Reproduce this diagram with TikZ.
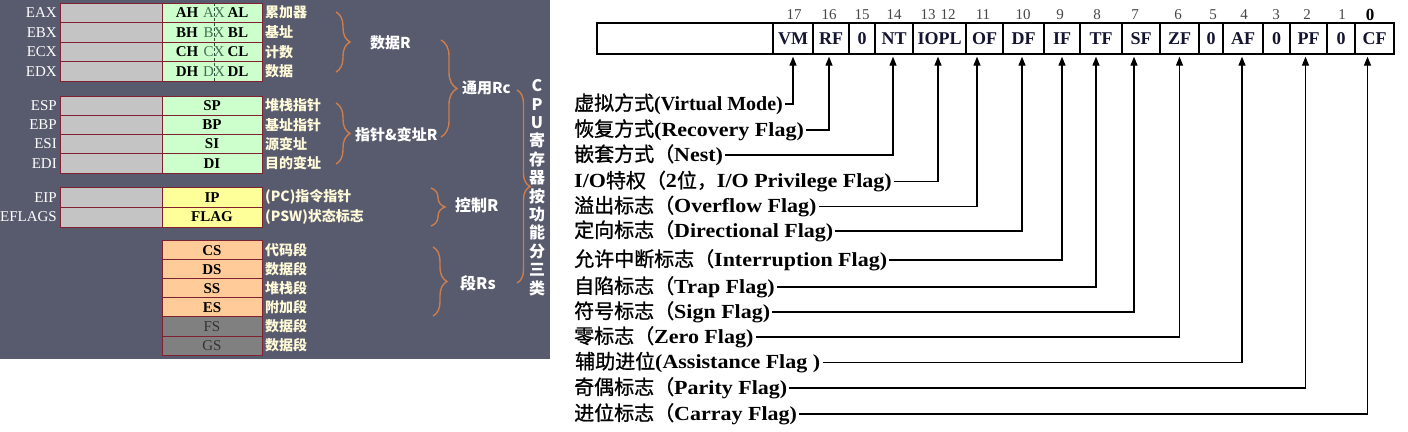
\documentclass[tikz,border=0pt]{standalone}
\usepackage{fontspec}
\setmainfont{Liberation Serif}
\newfontfamily\cjk{Noto Sans CJK SC}
\newfontfamily\cjkr[FakeBold=1]{Noto Sans CJK SC}
\newfontfamily\latw[FakeStretch=1.1]{Liberation Serif}
\usetikzlibrary{arrows.meta,decorations.pathreplacing}
\definecolor{panelbg}{RGB}{88,90,110}
\definecolor{reggrey}{RGB}{196,196,196}
\definecolor{reggreen}{RGB}{204,255,204}
\definecolor{regyellow}{RGB}{255,255,153}
\definecolor{regorange}{RGB}{255,204,153}
\definecolor{regdark}{RGB}{128,128,128}
\definecolor{regborder}{RGB}{128,32,48}
\definecolor{cream}{RGB}{255,250,215}
\definecolor{bracecol}{RGB}{205,125,75}
\definecolor{axcol}{RGB}{70,110,85}
\definecolor{bitcol}{RGB}{70,70,70}
\definecolor{celltext}{RGB}{20,20,50}
\newcommand{\zh}[1]{{\cjkr\mdseries #1}}
\begin{document}
\begin{tikzpicture}[x=1pt,y=-1pt,
  regname/.style={anchor=east,text=white,font=\fontsize{15}{17}\selectfont,inner sep=0},
  greyreg/.style={draw=regborder,fill=reggrey,minimum width=102,minimum height=#1,inner sep=0,line width=0.8},
  lowreg/.style={draw=regborder,minimum width=100,minimum height=#1,inner sep=0,line width=0.8,font=\fontsize{15}{17}\selectfont\bfseries},
  half/.style={inner sep=0,font=\fontsize{15}{17}\selectfont\bfseries},
  midreg/.style={inner sep=0,text=axcol,font=\fontsize{15}{17}\selectfont},
  note/.style={anchor=west,text=cream,font=\fontsize{14}{16}\selectfont\cjk\bfseries,inner sep=0},
  grp/.style={anchor=west,text=white,font=\fontsize{15}{17}\selectfont\cjk\bfseries,inner sep=0},
  brc/.style={draw=bracecol,line width=1.4,decorate,decoration={brace,amplitude=#1}},
  cell/.style={draw,line width=1.3,minimum height=31,inner sep=0,text=celltext,font=\fontsize{18}{20}\selectfont\bfseries},
  bitno/.style={inner sep=0,text=bitcol,font=\fontsize{15}{17}\selectfont},
  lbl/.style={anchor=west,inner xsep=2,inner ysep=0,font=\fontsize{20}{22}\selectfont\latw\bfseries},
  arr/.style={draw,line width=1.2,-{Triangle[length=9pt,width=7pt]}}]
\useasboundingbox (0,0) rectangle (1408,431);
\fill[white] (0,0) rectangle (1408,431);
% ---------- left panel ----------
\fill[panelbg] (0,0) rectangle (550,359);
% data registers
\foreach \nm/\y/\hi/\md/\lo/\txt in {EAX/12.75/AH/AX/AL/累加器,EBX/32.25/BH/BX/BL/基址,ECX/51.75/CH/CX/CL/计数,EDX/71.25/DH/DX/DL/数据}{
  \node[greyreg=19.5] (\nm-g) at (111,\y) {};
  \node[regname] (\nm) at (57,\y) {\nm};
  \node[lowreg=19.5,fill=reggreen] (\md-b) at (212,\y) {};
  \node[half] (\hi) at (187,\y) {\hi};
  \node[half] (\lo) at (238,\y) {\lo};
  \node[midreg] (\md) at (214,\y) {\md};
  \node[note] (\nm-n) at (265,\y) {\txt};
}
\draw[axcol!70!black,line width=0.7,dash pattern=on 3pt off 2pt] (214,3) -- (214,81);
% pointer & index registers
\foreach \nm/\y/\sh/\txt in {ESP/105.6/SP/堆栈指针,EBP/124.9/BP/基址指针,ESI/144.1/SI/源变址,EDI/163.4/DI/目的变址}{
  \node[greyreg=19.25] (\nm-g) at (111,\y) {};
  \node[regname] (\nm) at (57,\y) {\nm};
  \node[lowreg=19.25,fill=reggreen] (\sh) at (212,\y) {\sh};
  \node[note] (\nm-n) at (265,\y) {\txt};
}
% control registers
\foreach \nm/\y/\sh/\txt in {EIP/197.2/IP/(PC)指令指针,EFLAGS/217/FLAG/(PSW)状态标志}{
  \node[greyreg=19.8] (\nm-g) at (111,\y) {};
  \node[regname] (\nm) at (57,\y) {\nm};
  \node[lowreg=19.8,fill=regyellow] (\sh) at (212,\y) {\sh};
  \node[note] (\nm-n) at (265,\y) {\txt};
}
% segment registers
\foreach \sh/\y/\txt in {CS/250.2/代码段,DS/269.3/数据段,SS/288.3/堆栈段,ES/307.4/附加段}{
  \node[lowreg=19.05,fill=regorange] (\sh) at (212,\y) {\sh};
  \node[note] (\sh-n) at (265,\y) {\txt};
}
\foreach \sh/\y/\txt in {FS/326.4/数据段,GS/345.5/数据段}{
  \node[lowreg=19.05,fill=regdark,text=black!80,font=\fontsize{15}{17}\selectfont] (\sh) at (212,\y) {\sh};
  \node[note] (\sh-n) at (265,\y) {\txt};
}
% braces and group labels
\draw[brc=14] (336,12) -- (336,72);
\node[grp] (gdata) at (370,43) {数据R};
\draw[brc=14] (336,103) -- (336,164);
\node[grp] (gptr) at (355,135) {指针\&变址R};
\draw[brc=16] (441,40) -- (441,137);
\node[grp] (ggen) at (462,88) {通用Rc};
\draw[brc=14] (431,188) -- (431,226);
\node[grp,font=\fontsize{16}{18}\selectfont\cjk\bfseries] (gctl) at (455,205) {控制R};
\draw[brc=14] (433,247) -- (433,316);
\node[grp,font=\fontsize{16}{18}\selectfont\cjk\bfseries] (gseg) at (460,283) {段Rs};
\draw[brc=13] (517,90) -- (517,283);
\node[inner sep=0,align=center,text=white,font=\fontsize{16}{18.4}\selectfont\cjk\bfseries] (cpu) at (537,187.5) {C\\P\\U\\寄\\存\\器\\按\\功\\能\\分\\三\\类};
% ---------- right panel ----------
\node[cell,minimum width=176] (blank) at (685,38.5) {};
\node[cell,minimum width=40] (vm) at (793,38.5) {VM};
\node[cell,minimum width=36] (rf) at (831,38.5) {RF};
\node[cell,minimum width=26] (z15) at (862,38.5) {0};
\node[cell,minimum width=38] (nt) at (894,38.5) {NT};
\node[cell,minimum width=53] (iopl) at (939.5,38.5) {IOPL};
\node[cell,minimum width=37] (of) at (984.5,38.5) {OF};
\node[cell,minimum width=41] (df) at (1023.5,38.5) {DF};
\node[cell,minimum width=36] (if) at (1062,38.5) {IF};
\node[cell,minimum width=42] (tf) at (1101,38.5) {TF};
\node[cell,minimum width=38] (sf) at (1141,38.5) {SF};
\node[cell,minimum width=39] (zf) at (1179.5,38.5) {ZF};
\node[cell,minimum width=24] (z5) at (1211,38.5) {0};
\node[cell,minimum width=40] (af) at (1243,38.5) {AF};
\node[cell,minimum width=27] (z3) at (1276.5,38.5) {0};
\node[cell,minimum width=37] (pf) at (1308.5,38.5) {PF};
\node[cell,minimum width=28] (z1) at (1341,38.5) {0};
\node[cell,minimum width=39] (cf) at (1374.5,38.5) {CF};
% bit numbers
\foreach \b/\x in {17/794,16/829,15/862,14/894,13/928,12/948,11/983,10/1023,9/1060,8/1097,7/1135,6/1178,5/1213,4/1244,3/1276,2/1307,1/1342}{
  \node[bitno] (bit\b) at (\x,15) {\b};
}
\node[bitno,text=black,font=\fontsize{17}{19}\selectfont\bfseries] (bit0) at (1370,15) {0};
% flag labels
\node[lbl,font=\fontsize{20}{22}\selectfont\bfseries] (lvm) at (572,104) {\zh{虚拟方式}(Virtual Mode)};
\node[lbl] (lrf) at (572,130) {\zh{恢复方式}(Recovery Flag)};
\node[lbl] (lnt) at (572,155) {\zh{嵌套方式（}Nest)};
\node[lbl] (liopl) at (572,181.5) {I/O\zh{特权（}2\zh{位，}I/O Privilege Flag)};
\node[lbl] (lof) at (572,206.5) {\zh{溢出标志（}Overflow Flag)};
\node[lbl] (ldf) at (572,231) {\zh{定向标志（}Directional Flag)};
\node[lbl] (lif) at (572,260) {\zh{允许中断标志（}Interruption Flag)};
\node[lbl] (ltf) at (572,287) {\zh{自陷标志（}Trap Flag)};
\node[lbl] (lsf) at (572,312) {\zh{符号标志（}Sign Flag)};
\node[lbl] (lzf) at (572,337) {\zh{零标志（}Zero Flag)};
\node[lbl,inner xsep=3] (laf) at (572,362.5) {\zh{辅助进位}(Assistance Flag )};
\node[lbl] (lpf) at (572,388) {\zh{奇偶标志（}Parity Flag)};
\node[lbl] (lcf) at (572,414) {\zh{进位标志（}Carray Flag)};
% connectors
\draw[arr] (lvm.east) -| ([yshift=-2]vm.south);
\draw[arr] (lrf.east) -| ([xshift=-2,yshift=-2]rf.south);
\draw[arr] (lnt.east) -| ([xshift=-1,yshift=-2]nt.south);
\draw[arr] (liopl.east) -| ([xshift=-1.5,yshift=-2]iopl.south);
\draw[arr] (lof.east) -| ([xshift=-7.5,yshift=-2]of.south);
\draw[arr] (ldf.east) -| ([xshift=-1.5,yshift=-2]df.south);
\draw[arr] (lif.east) -| ([yshift=-2]if.south);
\draw[arr] (ltf.east) -| ([xshift=-5,yshift=-2]tf.south);
\draw[arr] (lsf.east) -| ([xshift=-7,yshift=-2]sf.south);
\draw[arr] (lzf.east) -| ([yshift=-2]zf.south);
\draw[arr] (laf.east) -| ([xshift=-1,yshift=-2]af.south);
\draw[arr] (lpf.east) -| ([xshift=-3,yshift=-2]pf.south);
\draw[arr] (lcf.east) -| ([xshift=-7,yshift=-2]cf.south);
\end{tikzpicture}
\end{document}
